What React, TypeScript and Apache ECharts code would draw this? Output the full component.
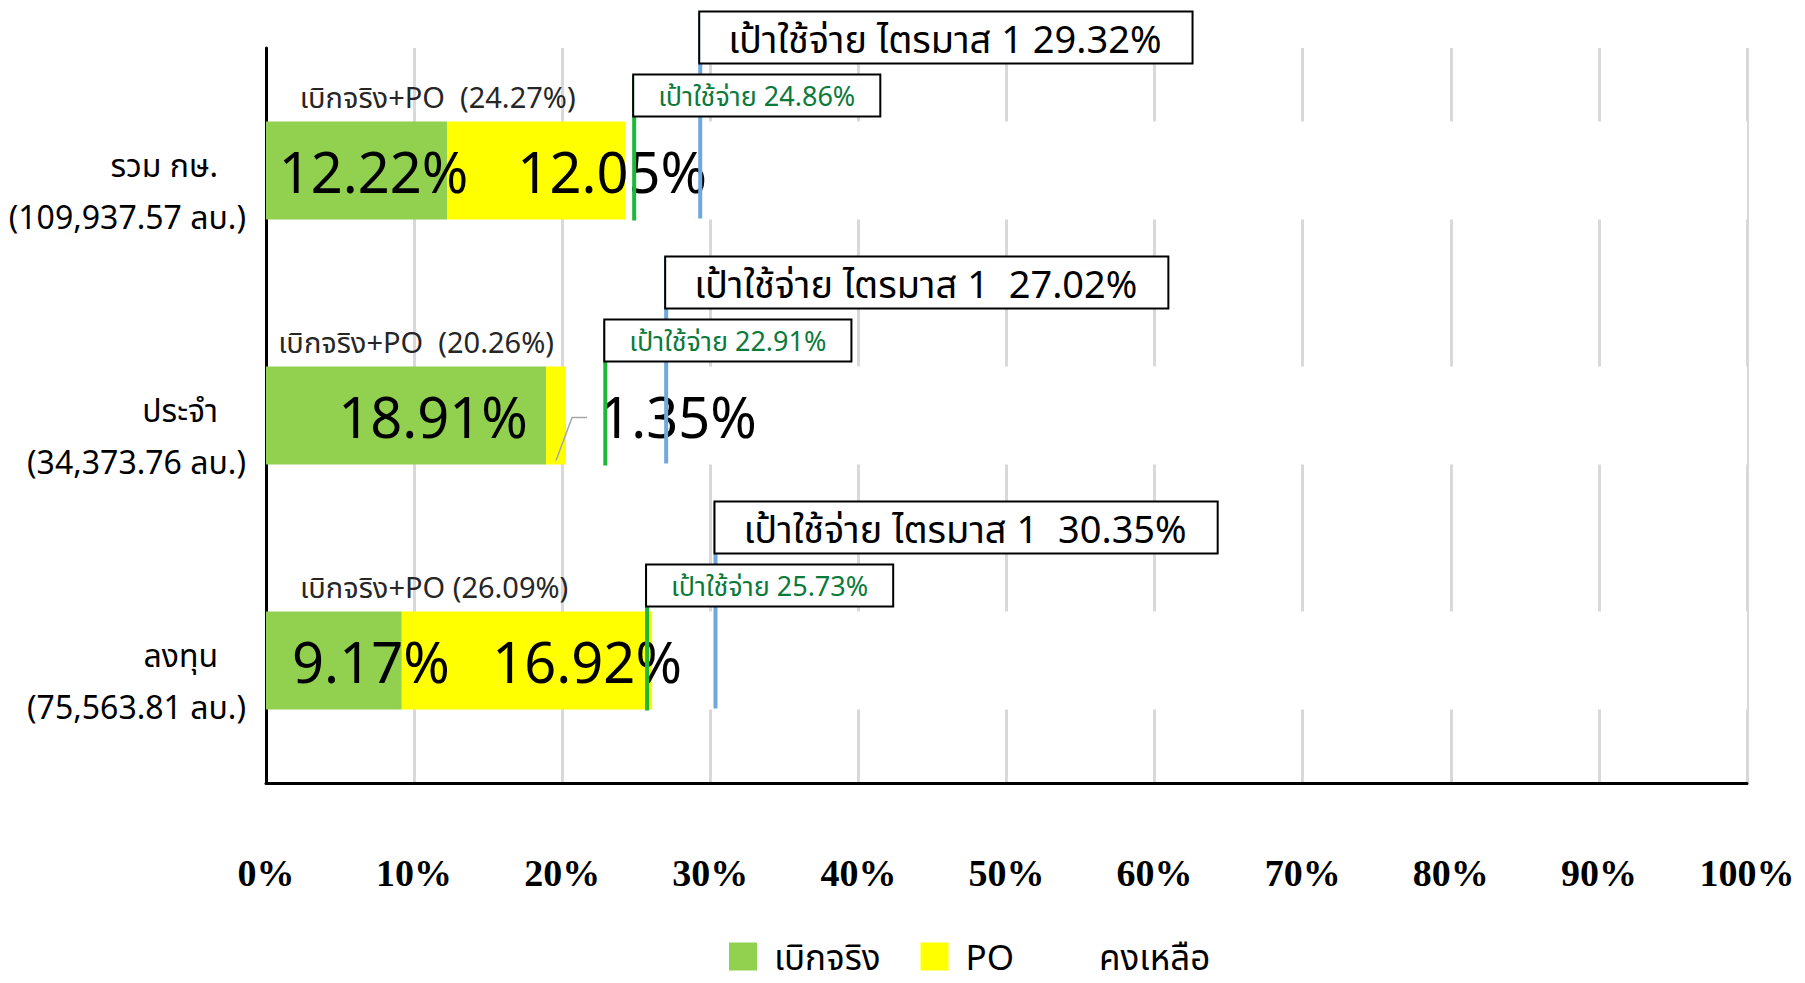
import React, { useEffect, useRef } from 'react';
import * as echarts from 'echarts';

// ---------- data ----------
const categories = ['รวม กษ.', 'ประจำ', 'ลงทุน'];
const categoryBudgets = ['(109,937.57 ลบ.)', '(34,373.76 ลบ.)', '(75,563.81 ลบ.)'];
const disbursed = [12.22, 18.91, 9.17];
const po = [12.05, 1.35, 16.92];
const remaining = [75.73, 79.74, 73.91];
const totals = [24.27, 20.26, 26.09];
const totalLabels = ['เบิกจริง+PO  (24.27%)', 'เบิกจริง+PO  (20.26%)', 'เบิกจริง+PO (26.09%)'];
const spendTargets = [24.86, 22.91, 25.73];
const spendTargetLabels = ['เป้าใช้จ่าย 24.86%', 'เป้าใช้จ่าย 22.91%', 'เป้าใช้จ่าย 25.73%'];
const quarterTargets = [29.32, 27.02, 30.35];
const quarterTargetLabels = ['เป้าใช้จ่าย ไตรมาส 1 29.32%', 'เป้าใช้จ่าย ไตรมาส 1  27.02%', 'เป้าใช้จ่าย ไตรมาส 1  30.35%'];
const legendNames = ['เบิกจริง', 'PO', 'คงเหลือ'];

// ---------- style ----------
const FONT = "'Noto Sans', 'Noto Sans Thai', 'DejaVu Sans', sans-serif";
const disbursedLabelDx = [17, 27, 37];
const poLabelDx = [76, 122, 60];
const totalLabelDx = [-8, 0, -25];
const leaderIndices = [1];

function targetSeries(name: string, values: number[], labels: string[], o: any) {
  return {
    type: 'custom',
    name,
    silent: true,
    z: o.z,
    encode: { x: 0, y: 1 },
    data: values.map((v, i) => [v, i]),
    renderItem: (params: any, api: any) => {
      const p = api.coord([api.value(0), api.value(1)]);
      const x = p[0];
      const cy = p[1];
      return {
        type: 'group',
        children: [
          {
            type: 'line',
            shape: { x1: x, y1: cy + o.lineTop, x2: x, y2: cy + o.lineBottom },
            style: { stroke: o.lineColor, lineWidth: o.lineWidth },
          },
          {
            type: 'text',
            x: x,
            y: cy + o.boxTop,
            style: {
              text: labels[params.dataIndex],
              fill: o.textColor,
              fontSize: o.fontSize,
              fontFamily: FONT,
              lineHeight: o.lineHeight,
              backgroundColor: '#ffffff',
              borderColor: '#000000',
              borderWidth: 2,
              padding: o.padding,
              align: 'left',
              verticalAlign: 'top',
            },
          },
        ],
      };
    },
  };
}

export default function App() {
  const ref = useRef<HTMLDivElement>(null);

  useEffect(() => {
    document.body.style.margin = '0';
    const chart = echarts.init(ref.current!, null, { renderer: 'svg' });
    const option: any = {
      animation: false,
      backgroundColor: '#ffffff',
      textStyle: { fontFamily: FONT },
      grid: { left: 266, right: 58, top: 48, bottom: 200, containLabel: false },
      legend: {
        data: legendNames,
        left: 724,
        top: 934,
        itemWidth: 28,
        itemHeight: 28,
        itemGap: 40,
        icon: 'rect',
        textStyle: { fontSize: 35, lineHeight: 34, color: '#000', fontFamily: FONT, padding: [0, 0, 0, 12] },
      },
      xAxis: {
        type: 'value',
        min: 0,
        max: 100,
        interval: 10,
        axisLine: { show: true, lineStyle: { color: '#000', width: 3 } },
        axisTick: { show: false },
        splitLine: { show: true, lineStyle: { color: '#d9d9d9', width: 3 } },
        axisLabel: {
          formatter: '{value}%',
          margin: 71,
          fontSize: 38,
          fontWeight: 'bold',
          fontFamily: "'Liberation Serif', 'Times New Roman', serif",
          color: '#000',
        },
      },
      yAxis: {
        type: 'category',
        inverse: true,
        data: categories,
        axisLine: { show: true, lineStyle: { color: '#000', width: 3 } },
        axisTick: { show: false },
        axisLabel: {
          margin: 20,
          padding: [40, 0, 0, 0],
          formatter: (v: string, i: number) => `{a|${v}}\n{b|${categoryBudgets[i]}}`,
          rich: {
            a: { fontSize: 32, lineHeight: 52, color: '#000', padding: [0, 28, 0, 0], fontFamily: FONT },
            b: { fontSize: 32, lineHeight: 52, color: '#000', fontFamily: FONT },
          },
        },
      },
      series: [
        {
          name: legendNames[0],
          type: 'bar',
          stack: 'total',
          barWidth: 98,
          itemStyle: { color: '#92D050' },
          label: { show: true, position: 'inside', fontSize: 56, color: '#000', formatter: '{c}%' },
          data: disbursed.map((v, i) => ({ value: v, label: { offset: [disbursedLabelDx[i], 0] } })),
        },
        {
          name: legendNames[1],
          type: 'bar',
          stack: 'total',
          barWidth: 98,
          itemStyle: { color: '#FFFF00' },
          label: { show: true, position: 'inside', fontSize: 56, color: '#000', formatter: '{c}%' },
          data: po.map((v, i) => ({ value: v, label: { offset: [poLabelDx[i], 0] } })),
        },
        {
          name: legendNames[2],
          type: 'bar',
          stack: 'total',
          barWidth: 98,
          itemStyle: { color: '#ffffff' },
          label: { show: true, position: 'inside', fontSize: 56, color: '#ffffff', formatter: '{c}%' },
          data: remaining,
        },
        {
          type: 'custom',
          name: 'leader',
          silent: true,
          z: 4,
          encode: { x: 0, y: 1 },
          data: leaderIndices.map((i) => [disbursed[i] + po[i] / 2, i]),
          renderItem: (params: any, api: any) => {
            const p = api.coord([api.value(0), api.value(1)]);
            return {
              type: 'polyline',
              shape: { points: [[p[0], p[1] + 45], [p[0] + 16, p[1] + 2], [p[0] + 31, p[1] + 2]] },
              style: { stroke: '#a6a6a6', lineWidth: 1.5, fill: 'none' },
            };
          },
        },
        {
          type: 'custom',
          name: 'total',
          silent: true,
          z: 5,
          encode: { x: 0, y: 1 },
          data: totals.map((v, i) => [v, i]),
          renderItem: (params: any, api: any) => {
            const p = api.coord([api.value(0) / 2, api.value(1)]);
            return {
              type: 'text',
              x: p[0] + totalLabelDx[params.dataIndex],
              y: p[1] - 74,
              style: {
                text: totalLabels[params.dataIndex],
                fill: '#262626',
                fontSize: 29,
                fontFamily: FONT,
                align: 'center',
                verticalAlign: 'middle',
              },
            };
          },
        },
        targetSeries('quarter', quarterTargets, quarterTargetLabels, {
          z: 6,
          lineTop: -158,
          lineBottom: 48,
          lineColor: '#6fa8dc',
          lineWidth: 4,
          boxTop: -158,
          textColor: '#000',
          fontSize: 38,
          lineHeight: 40,
          padding: [5, 30, 5, 28],
        }),
        targetSeries('spend', spendTargets, spendTargetLabels, {
          z: 7,
          lineTop: -95,
          lineBottom: 50,
          lineColor: '#1db83a',
          lineWidth: 4,
          boxTop: -95,
          textColor: '#0b7a3b',
          fontSize: 27,
          lineHeight: 30,
          padding: [5, 24, 5, 24],
        }),
      ],
    };
    chart.setOption(option);
    return () => chart.dispose();
  }, []);

  return <div ref={ref} style={{ width: 1805, height: 983 }} />;
}
